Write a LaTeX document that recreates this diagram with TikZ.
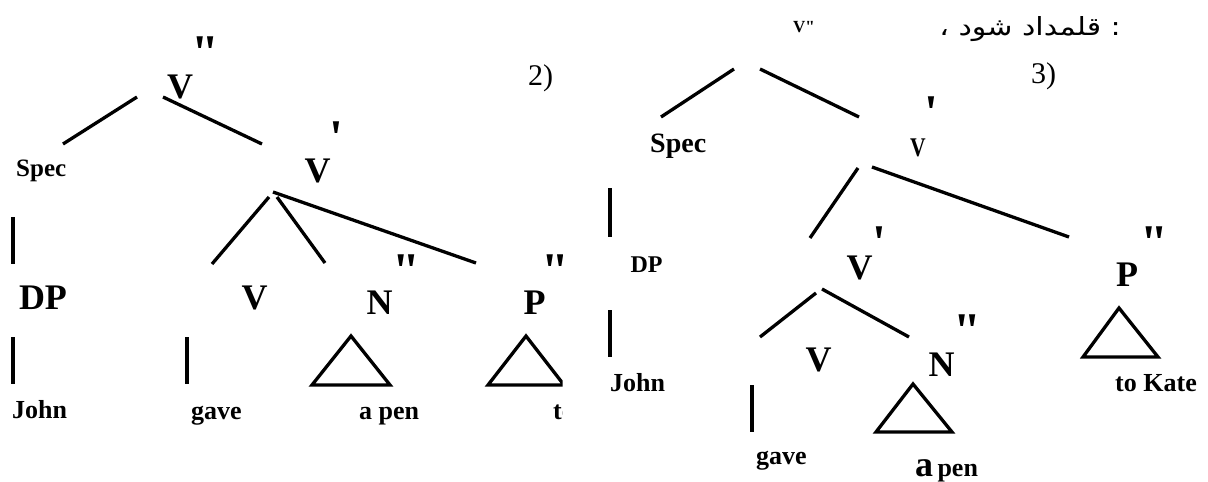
\documentclass[tikz,border=0pt]{standalone}
\usepackage{fontspec}
\newfontfamily\tnr{Liberation Serif}
\newfontfamily\arabicfont[Script=Arabic]{DejaVu Sans}
\TeXXeTstate=1
\tikzset{
  edge/.style={line width=3.3pt},
  tri/.style={line width=3.3pt, line join=miter},
  big/.style={inner sep=0pt, anchor=center, font=\tnr\bfseries\fontsize{36}{36}\selectfont},
  prm/.style={inner sep=0pt, anchor=north, font=\tnr\bfseries\fontsize{50}{50}\selectfont},
  word/.style={inner sep=0pt, anchor=base west, font=\tnr\bfseries\fontsize{26}{26}\selectfont},
  num/.style={inner sep=0pt, anchor=center, font=\tnr\fontsize{30}{30}\selectfont}
}
\begin{document}
\begin{tikzpicture}[x=1pt,y=-1pt]
\useasboundingbox (0,0) rectangle (1208,482);
\fill[white] (0,0) rectangle (1208,482);
% ================= Tree 2 (left, clipped) =================
\begin{scope}
\clip (0,0) rectangle (562.5,482);
\node[big] (lVpp) at (180,86.5) {V};
\node[prm] (lVppm) at (205,37) {"};
\node[num] (ltwo) at (540.5,78.5) {2)};
\node[word,font=\tnr\bfseries\fontsize{25}{25}\selectfont] (lSpec) at (16,176.5) {Spec};
\node[big] (lVp) at (317.5,170.5) {V};
\node[prm] (lVpm) at (336.5,122) {'};
\node[big] (lDP) at (43,297.5) {DP};
\node[big] (lV) at (254.5,297.5) {V};
\node[big] (lN) at (379.5,302.5) {N};
\node[prm] (lNm) at (406.5,255) {"};
\node[big] (lP) at (534.5,302.5) {P};
\node[prm] (lPm) at (555.5,255) {"};
\node[word] (lJohn) at (12,418) {John};
\node[word] (lgave) at (191,419) {gave};
\node[word] (lapen) at (359,419) {a pen};
\node[word] (lKate) at (553,419) {to Kate};
% line ends
\coordinate (a1) at (137,97);  \coordinate (a2) at (63,144);
\coordinate (b1) at (163,97);  \coordinate (b2) at (262,144);
\coordinate (c0) at (273,192);
\coordinate (c1) at (269,197); \coordinate (c2) at (212,264);
\coordinate (d1) at (277,197); \coordinate (d2) at (325,263);
\coordinate (e2) at (476,263);
\coordinate (f1) at (13,217);  \coordinate (f2) at (13,264);
\coordinate (g1) at (13,337);  \coordinate (g2) at (13,384);
\coordinate (h1) at (187,337); \coordinate (h2) at (187,384);
\draw[edge] (a1) -- (a2);
\draw[edge] (b1) -- (b2);
\draw[edge] (c1) -- (c2);
\draw[edge] (d1) -- (d2);
\draw[edge] (c0) -- (e2);
\draw[edge] (f1) -- (f2);
\draw[edge] (g1) -- (g2);
\draw[edge] (h1) -- (h2);
\coordinate (tn1) at (351,336); \coordinate (tn2) at (312,385); \coordinate (tn3) at (390,385);
\draw[tri] (tn1) -- (tn2) -- (tn3) -- cycle;
\coordinate (tp1) at (526,336); \coordinate (tp2) at (488,385); \coordinate (tp3) at (564,385);
\draw[tri] (tp1) -- (tp2) -- (tp3) -- cycle;
\end{scope}
% ================= Tree 3 (right) =================
\node[inner sep=0pt, anchor=base west, font=\tnr\bfseries\fontsize{17}{17}\selectfont] (rVpp) at (793,32) {V"};
\node[inner sep=0pt, anchor=east, font=\arabicfont\fontsize{25}{25}\selectfont] (rfa) at (1121,29) {\scalebox{1.2}[1]{،\ \beginR قلمداد شود\endR\ :}};
\node[num] (rthree) at (1043.5,76.5) {3)};
\node[word,font=\tnr\bfseries\fontsize{28}{28}\selectfont] (rSpec) at (650,152) {Spec};
\node[inner sep=0pt, anchor=center, font=\tnr\bfseries\fontsize{27}{27}\selectfont] (rVp) at (918,147.5) {\scalebox{0.8}[1]{V}};
\node[prm] (rVpm) at (931,97) {'};
\node[inner sep=0pt, anchor=center, font=\tnr\bfseries\fontsize{24}{24}\selectfont] (rDP) at (646.5,265) {DP};
\node[big] (rVp2) at (859.5,267.5) {V};
\node[prm] (rVp2m) at (879,227) {'};
\node[big] (rP) at (1127,275) {P};
\node[prm] (rPm) at (1154,227) {"};
\node[big] (rV) at (818.5,359.5) {V};
\node[big] (rN) at (941.5,364.5) {N};
\node[prm] (rNm) at (967.5,315) {"};
\node[word] (rJohn) at (610,391) {John};
\node[word] (rKate) at (1115,391) {to Kate};
\node[word] (rgave) at (756,464) {gave};
\node[word] (rapen) at (915,476) {{\fontsize{36}{36}\selectfont a}\,pen};
% line ends
\coordinate (ra1) at (734,69);  \coordinate (ra2) at (661,117);
\coordinate (rb1) at (760,69);  \coordinate (rb2) at (859,117);
\coordinate (rc1) at (858,168); \coordinate (rc2) at (810,238);
\coordinate (rd1) at (872,167); \coordinate (rd2) at (1069,237);
\coordinate (re1) at (610,188); \coordinate (re2) at (610,237);
\coordinate (rf1) at (610,310); \coordinate (rf2) at (610,357);
\coordinate (rg1) at (816,293); \coordinate (rg2) at (760,337);
\coordinate (rh1) at (822,289); \coordinate (rh2) at (909,337);
\coordinate (ri1) at (752,385); \coordinate (ri2) at (752,432);
\draw[edge] (ra1) -- (ra2);
\draw[edge] (rb1) -- (rb2);
\draw[edge] (rc1) -- (rc2);
\draw[edge] (rd1) -- (rd2);
\draw[edge] (re1) -- (re2);
\draw[edge] (rf1) -- (rf2);
\draw[edge] (rg1) -- (rg2);
\draw[edge] (rh1) -- (rh2);
\draw[edge] (ri1) -- (ri2);
\coordinate (rtp1) at (1119,308); \coordinate (rtp2) at (1083,357); \coordinate (rtp3) at (1158,357);
\draw[tri] (rtp1) -- (rtp2) -- (rtp3) -- cycle;
\coordinate (rtn1) at (913,384); \coordinate (rtn2) at (876,432); \coordinate (rtn3) at (952,432);
\draw[tri] (rtn1) -- (rtn2) -- (rtn3) -- cycle;
\end{tikzpicture}
\end{document}
